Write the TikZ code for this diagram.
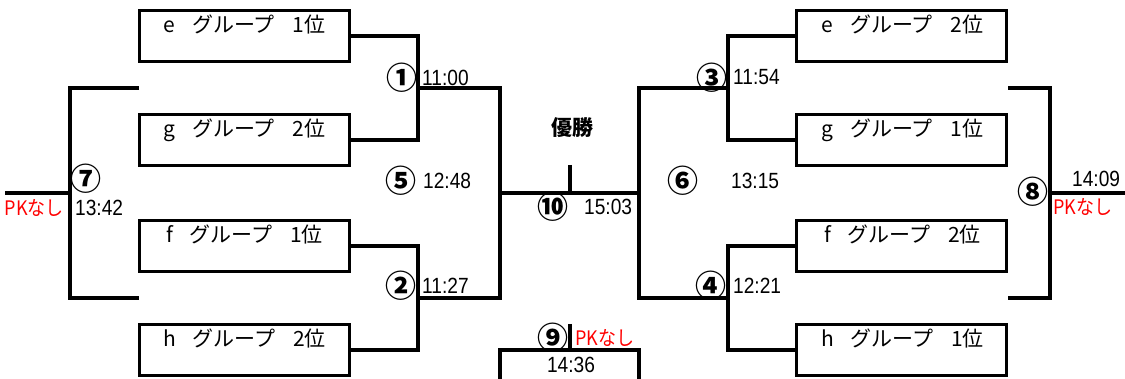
\documentclass[tikz,border=0pt]{standalone}
\usepackage{fontspec}
\setmainfont{Noto Sans CJK JP}
\newfontfamily\numfont[FakeStretch=0.87]{Liberation Sans}
\newfontfamily\pkfont[FakeStretch=0.9]{Noto Sans CJK JP}
\begin{document}
\begin{tikzpicture}[x=1pt,y=-1pt,
  brk/.style={line width=4pt, line join=miter},
  box/.style={draw, line width=3pt, minimum width=210pt, minimum height=51pt, inner sep=0pt},
  boxtext/.style={font=\fontsize{21}{21}\selectfont, anchor=base, inner sep=0pt},
  circ/.style={font=\fontsize{31}{31}\selectfont\bfseries, inner sep=0pt},
  tm/.style={font=\numfont\fontsize{22}{22}\selectfont, inner sep=0pt},
  pk/.style={font=\pkfont\fontsize{20}{20}\selectfont, text={rgb,255:red,255;green,0;blue,0}, inner sep=0pt}]
\useasboundingbox (0,0) rectangle (1125,379);

% boxes
\node[box] (be1) at (244.5,36) {};
\node[box] (bg2) at (244.5,140) {};
\node[box] (bf1) at (244.5,246) {};
\node[box] (bh2) at (244.5,350) {};
\node[box] (be2) at (901.5,36) {};
\node[box] (bg1) at (901.5,140) {};
\node[box] (bf2) at (901.5,246) {};
\node[box] (bh1) at (901.5,350) {};

\node[boxtext] (te1) at (244.5,32.5) {e \hspace{12pt}グループ \hspace{13pt}1位};
\node[boxtext] (tg2) at (244.5,136.5) {g \hspace{12pt}グループ \hspace{13pt}2位};
\node[boxtext] (tf1) at (244.5,242.5) {f \hspace{12pt}グループ \hspace{13pt}1位};
\node[boxtext] (th2) at (244.5,346.5) {h \hspace{12pt}グループ \hspace{13pt}2位};
\node[boxtext] (te2) at (902.5,32.5) {e \hspace{12pt}グループ \hspace{13pt}2位};
\node[boxtext] (tg1) at (902.5,136.5) {g \hspace{12pt}グループ \hspace{13pt}1位};
\node[boxtext] (tf2) at (902.5,242.5) {f \hspace{12pt}グループ \hspace{13pt}2位};
\node[boxtext] (th1) at (902.5,346.5) {h \hspace{12pt}グループ \hspace{13pt}1位};

% junctions
\coordinate (j1) at (418,88);
\coordinate (j2) at (418,298);
\coordinate (j3) at (728,88);
\coordinate (j4) at (728,298);
\coordinate (j5) at (500,193);
\coordinate (j6) at (639,193);
\coordinate (w10) at (570,165);
\coordinate (f10) at (570,193);
\coordinate (l7a) at (139,88);
\coordinate (l7b) at (139,298);
\coordinate (j7) at (70,193);
\coordinate (e7) at (5,193);
\coordinate (r8a) at (1008,88);
\coordinate (r8b) at (1008,298);
\coordinate (j8) at (1050,193);
\coordinate (e8) at (1130,193);
\coordinate (w9) at (570,324);
\coordinate (f9) at (570,350);
\coordinate (l9) at (500,390);
\coordinate (r9) at (639,390);

\draw[brk] (be1.east) -| (j1) |- (bg2.east);
\draw[brk] (bf1.east) -| (j2) |- (bh2.east);
\draw[brk] (j1) -| (j5) |- (j2);
\draw[brk] (be2.west) -| (j3) |- (bg1.west);
\draw[brk] (bf2.west) -| (j4) |- (bh1.west);
\draw[brk] (j3) -| (j6) |- (j4);
\draw[brk] (j5) -- (j6);
\draw[brk] (w10) -- (f10);
\draw[brk] (l7a) -| (j7) |- (l7b);
\draw[brk] (j7) -- (e7);
\draw[brk] (r8a) -| (j8) |- (r8b);
\draw[brk] (j8) -- (e8);
\draw[brk] (l9) |- (f9) -| (r9);
\draw[brk] (w9) -- (f9);

% labels
\node[circ] (c1) at (402,77.5) {①};
\node[tm, anchor=west] (t1) at (422,77.5) {11:00};
\node[circ] (c2) at (401,286) {②};
\node[tm, anchor=west] (t2) at (422,286) {11:27};
\node[circ] (c3) at (712,77.5) {③};
\node[tm, anchor=west] (t3) at (733,77.5) {11:54};
\node[circ] (c4) at (711,286) {④};
\node[tm, anchor=west] (t4) at (733,286) {12:21};
\node[circ] (c5) at (401,181) {⑤};
\node[tm, anchor=west] (t5) at (423,181) {12:48};
\node[circ] (c6) at (683,181) {⑥};
\node[tm, anchor=west] (t6) at (731,181) {13:15};
\node[circ] (c7) at (86,179) {⑦};
\node[tm, anchor=west] (t7) at (75,208) {13:42};
\node[pk, anchor=east] (p7) at (64,208) {PKなし};
\node[circ] (c8) at (1033,192) {⑧};
\node[tm, anchor=west] (t8) at (1072,179) {14:09};
\node[pk, anchor=west] (p8) at (1053,207) {PKなし};
\node[circ] (c9) at (553,338) {⑨};
\node[pk, anchor=west] (p9) at (575,338) {PKなし};
\node[tm] (t9) at (571,365) {14:36};
\node[circ] (c10) at (553,207) {⑩};
\node[tm, anchor=west] (t10) at (584,207) {15:03};
\node[font=\fontsize{21}{21}\selectfont\bfseries, inner sep=0pt] (win) at (572,128) {優勝};
\end{tikzpicture}
\end{document}
